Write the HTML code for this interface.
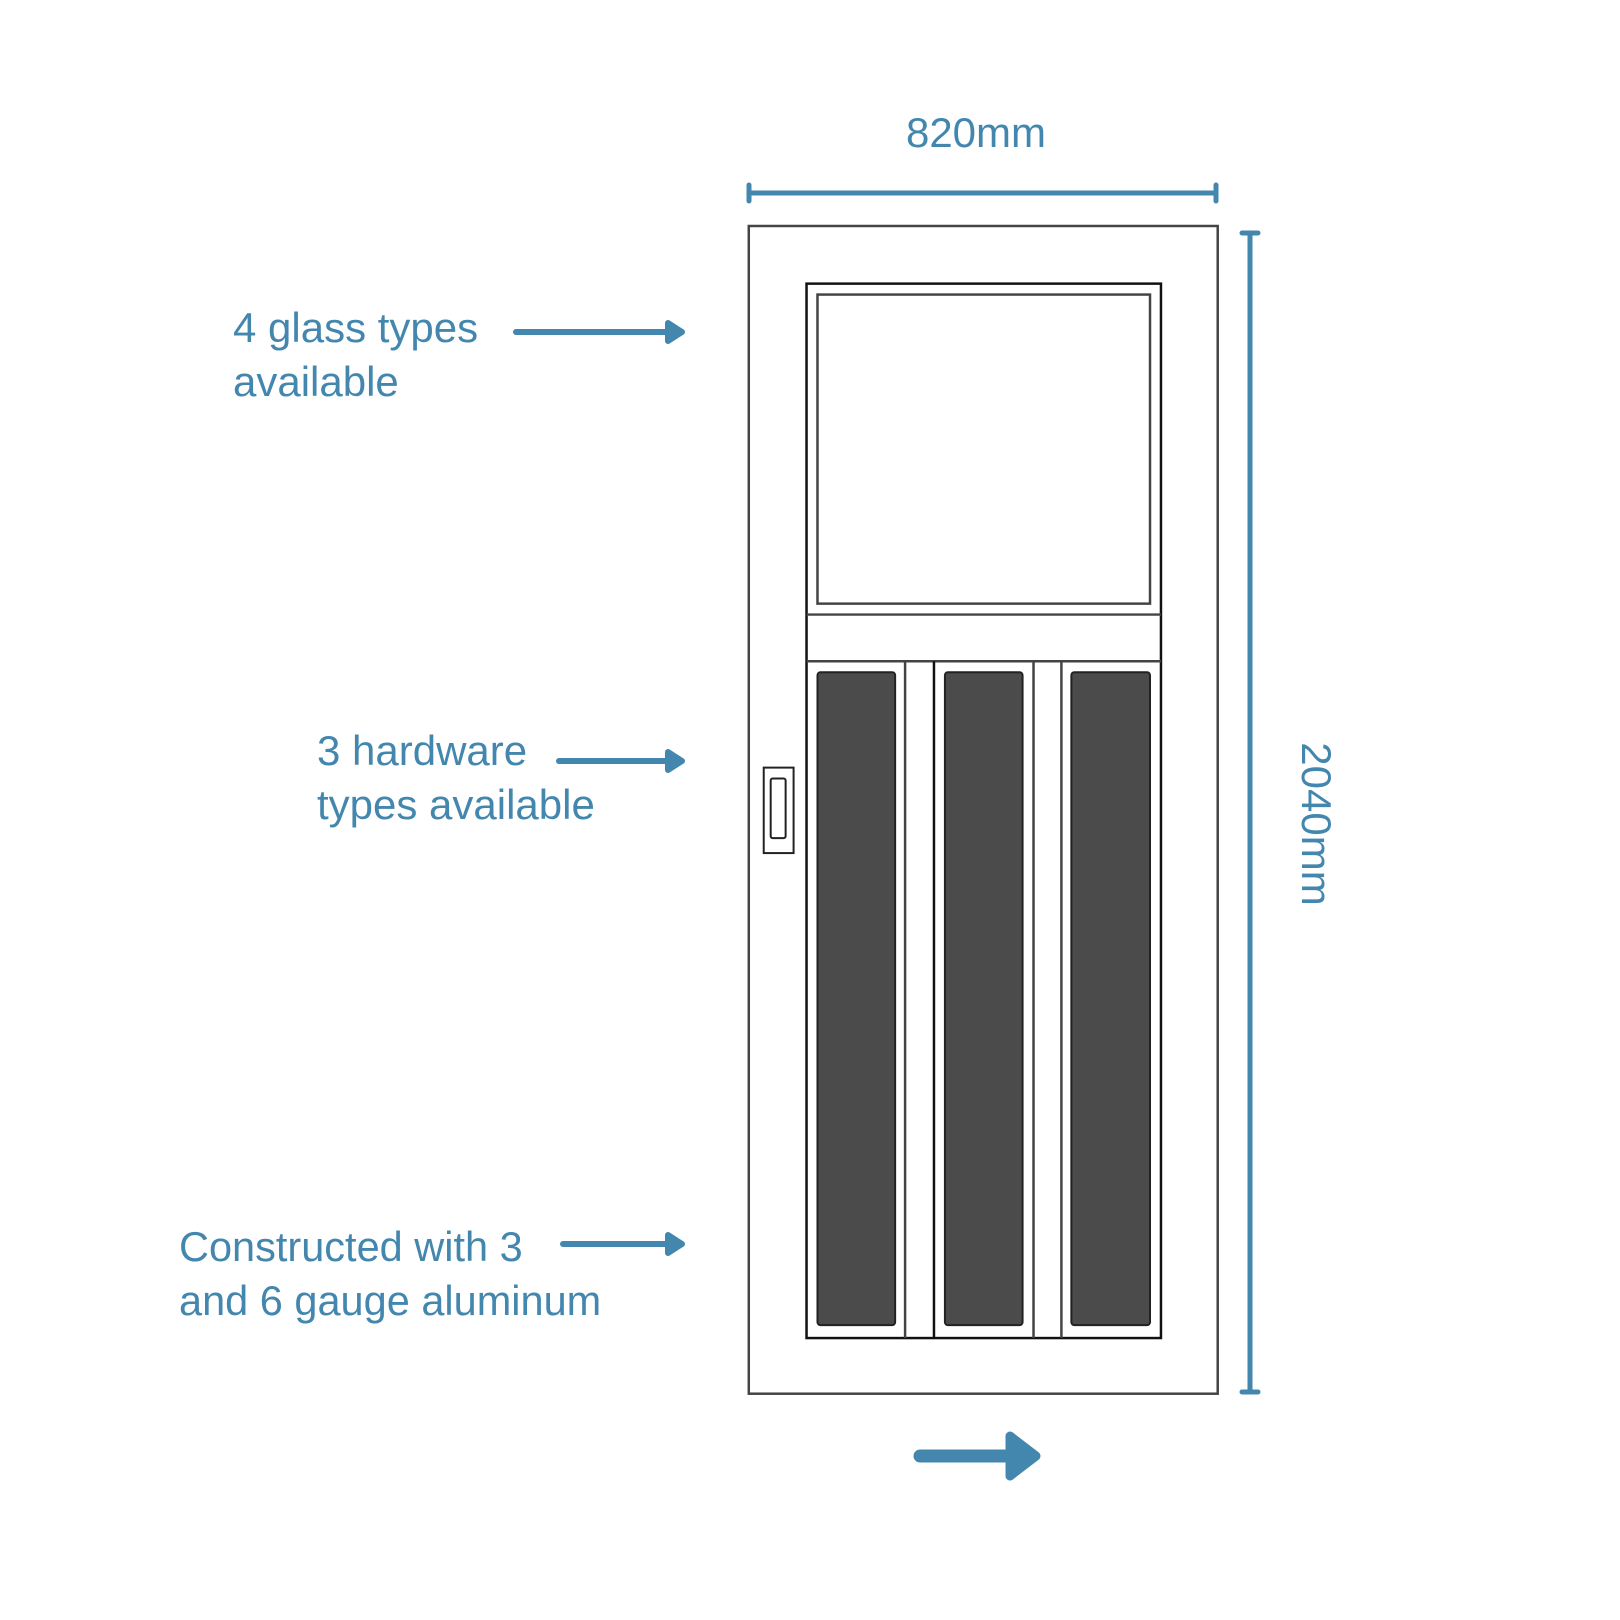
<!DOCTYPE html>
<html><head><meta charset="utf-8"><style>
html,body{margin:0;padding:0;background:#fff}
svg{display:block}
text{font-family:"Liberation Sans",Arial,sans-serif;fill:#4487ae}
</style></head><body>
<svg width="1620" height="1620" viewBox="0 0 1620 1620" xmlns="http://www.w3.org/2000/svg">
<text x="976" y="147" font-size="42" text-anchor="middle">820mm</text>
<g stroke="#4487ae" stroke-width="5" stroke-linecap="round" fill="none">
<line x1="749" y1="193" x2="1216" y2="193"/>
<line x1="749" y1="185" x2="749" y2="201"/>
<line x1="1216" y1="185" x2="1216" y2="201"/>
<line x1="1250" y1="233" x2="1250" y2="1392"/>
<line x1="1242" y1="233" x2="1258" y2="233"/>
<line x1="1242" y1="1392" x2="1258" y2="1392"/>
</g>
<text x="0" y="0" font-size="42" text-anchor="middle" transform="translate(1302,824) rotate(90)">2040mm</text>

<g transform="matrix(0.9956 0 0 0.9938 -0.9 0.4)">
<g fill="none" stroke="#444" stroke-width="2.5">
<rect x="753" y="227" width="471" height="1175"/>
<rect x="811" y="285" width="356" height="1061" stroke="#111"/>
<rect x="822" y="296" width="334" height="311"/>
<line x1="811" y1="618" x2="1167" y2="618"/>
<line x1="811" y1="665" x2="1167" y2="665"/>
<line x1="910" y1="665" x2="910" y2="1346"/>
<line x1="939" y1="665" x2="939" y2="1346" stroke="#111"/>
<line x1="1039" y1="665" x2="1039" y2="1346"/>
<line x1="1067" y1="665" x2="1067" y2="1346"/>
</g>
<g fill="#4b4b4b" stroke="#222" stroke-width="2">
<rect x="822" y="676" width="78" height="657" rx="3"/>
<rect x="950" y="676" width="78" height="657" rx="3"/>
<rect x="1077" y="676" width="79" height="657" rx="3"/>
</g>
<g fill="none" stroke="#222" stroke-width="2">
<rect x="768" y="772" width="30" height="86"/>
<rect x="775" y="783" width="15" height="60" rx="2"/>
</g>
</g>

<text x="233" y="342" font-size="42">4 glass types</text>
<text x="233" y="396" font-size="42">available</text>
<text x="317" y="765" font-size="42">3 hardware</text>
<text x="317" y="819" font-size="42">types available</text>
<text x="179" y="1261" font-size="41.5">Constructed with 3</text>
<text x="179" y="1315" font-size="41.5">and 6 gauge aluminum</text>

<g stroke="#4487ae" stroke-width="6" stroke-linecap="round" fill="#4487ae" stroke-linejoin="round">
<line x1="516" y1="332" x2="672" y2="332"/>
<path d="M668 323 L682 332 L668 341 Z"/>
<line x1="559" y1="761" x2="672" y2="761"/>
<path d="M668 752 L682 761 L668 770 Z"/>
<line x1="563" y1="1244" x2="672" y2="1244"/>
<path d="M668 1235 L682 1244 L668 1253 Z"/>
</g>
<g stroke="#4487ae" stroke-linecap="round" stroke-linejoin="round" fill="#4487ae">
<line x1="920" y1="1456" x2="1004" y2="1456" stroke-width="13"/>
<path d="M1010 1436 L1036 1456 L1010 1476 Z" stroke-width="9"/>
</g>
</svg>
</body></html>
